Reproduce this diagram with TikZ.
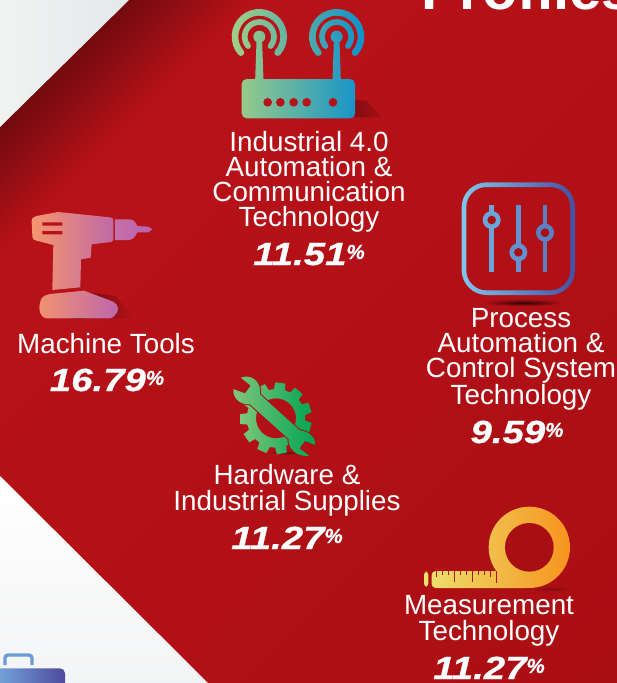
\documentclass[tikz,border=0pt]{standalone}
\usepackage{fontspec}
\setmainfont{Liberation Sans}
\newfontfamily\numfont[FakeBold=0.6]{Liberation Sans Bold Italic}
\usetikzlibrary{calc}
\newcommand{\hexc}[2]{\definecolor{#1}{HTML}{#2}}
\hexc{rA}{730A0E}\hexc{rB}{B81219}\hexc{rC}{A90E13}
\hexc{paleA}{F1F2F2}\hexc{paleB}{E5E7E9}\hexc{paleC}{FFFFFF}\hexc{paleD}{F3F4F5}
\hexc{caseH}{6C9BD6}\hexc{caseA}{76A9DC}\hexc{caseB}{4D4A9F}
\hexc{routA}{A5D083}\hexc{routB}{0B8FCE}
\hexc{drillA}{F6966C}\hexc{drillB}{BC66AC}\hexc{drillC}{C56FA8}\hexc{drillD}{B863AE}
\hexc{slideA}{80C6EB}\hexc{slideB}{4450A3}\hexc{slideC}{6BA6DB}\hexc{slideD}{5A80C4}
\hexc{gearA}{80C57E}\hexc{gearB}{00A551}
\hexc{tapeA}{ECE26F}\hexc{tapeB}{F7931E}
\tikzset{
  lbl/.style={text=white,anchor=base,align=center,inner sep=0pt,font=\fontsize{27.8}{25.1}\selectfont},
  num/.style={text=white,anchor=base,inner sep=0pt},
}
\newcommand{\pct}[1]{\scalebox{1.2}[1]{\fontsize{32}{32}\numfont #1}\raisebox{6pt}{\fontsize{20.5}{20.5}\numfont\%}}
\def\band#1#2#3#4#5#6{(#1,#2) ++(#5:#3+#4) arc[start angle=#5,end angle=#6,radius=#3+#4] arc[start angle=#6,end angle=#6+180,radius=#4] arc[start angle=#6,end angle=#5,radius=#3-#4] arc[start angle=#5+180,end angle=#5+360,radius=#4] -- cycle}
\def\antenna#1{\band{#1}{110}{73}{10}{139}{401} \band{#1}{110}{44}{8.5}{140}{400} (#1+18,110) arc[start angle=0,end angle=360,radius=18] (#1+8,110) -- (#1+12.5,240) -- (#1-12.5,240) -- (#1-8,110) -- cycle}
\def\wrenchpath{(92,38) .. controls (125,25) and (155,50) .. (150,88) -- (268,195) .. controls (300,200) and (318,220) .. (316,240) -- (285,228) -- (268,250) -- (298,272) .. controls (262,278) and (232,250) .. (236,222) -- (120,118) .. controls (90,120) and (68,100) .. (70,72) -- (105,85) -- (122,62) -- cycle}
\begin{document}
\begin{tikzpicture}[x=1pt,y=1pt,yscale=-1]
\useasboundingbox (0,0) rectangle (617,683);
\begin{scope}
\clip (0,0) rectangle (617,683);
% red ground
\fill[rA] (0,0) rectangle (617,683);
\foreach \t in {0,...,40}{
  \pgfmathsetmacro\s{128+\t*3.2}
  \pgfmathsetmacro\p{\t*2.5}
  \fill[rB!\p!rA] (\s,0) -- (1500,0) -- (1500,1500) -- (0,1500) -- (0,\s) -- cycle;
}
\foreach \t in {1,...,24}{
  \pgfmathsetmacro\s{256+\t*42}
  \pgfmathsetmacro\p{100-\t*4.1}
  \fill[rB!\p!rC] (\s,0) -- (1500,0) -- (1500,1500) -- (0,1500) -- (0,\s) -- cycle;
}
% pale corners
\shade[left color=paleA,right color=paleB] (0,0) -- (129,0) -- (0,127) -- cycle;
\shade[top color=paleC,bottom color=paleD] (0,476) -- (209,684) -- (0,684) -- cycle;
% briefcase
\draw[color=caseH,line width=3.3pt,rounded corners=3pt] (5,665) -- (5,655) -- (32,655) -- (32,665);
\shade[left color=caseA,right color=caseB,rounded corners=5pt] (-6,668.3) -- (65,668.3) -- (65,695) -- (-6,695) -- cycle;
% title
\node[text=white,anchor=base west,inner sep=0pt,font=\fontsize{58}{58}\selectfont\bfseries] (title) at (421,9) {Profiles};
\end{scope}
% router
\begin{scope}[shift={(200,0)},scale=0.33333]
\shade[left color=rB!72!black,right color=rC] (465,300) -- (500,302) -- (545,352) -- (465,352) -- cycle;
\shade[left color=routA,right color=routB]
  \antenna{178} \antenna{410}
  {[rounded corners=5pt] (465,237) -- (465,355) -- (125,355) -- (125,237) -- cycle};
\foreach \x in {203,241,281,320,399}{\fill[rB] (\x,307) circle (13);}
\end{scope}
% drill
\begin{scope}[shift={(0,190)},scale=0.33333]
\shade[left color=rB!62!black,right color=rB!98!black] (270,308) -- (345,318) -- (405,386) -- (250,386) -- cycle;
\fill[rB!60!black] (210,384) rectangle (255,388);
\shade[left color=drillA,right color=drillB]
  (110,78) -- (175,66) -- (330,82) .. controls (338,84) .. (340,92) -- (340,150) .. controls (338,155) .. (333,156) -- (275,163) -- (272,203) -- (243,208) -- (241,292) -- (157,300) -- (160,165) -- (110,152) .. controls (98,148) .. (97,135) -- (95,95) .. controls (96,84) .. (110,78) -- cycle
  (150,312) -- (252,302) -- (340,335) .. controls (358,345) and (358,365) .. (345,375) .. controls (340,382) .. (330,385) -- (140,385) .. controls (118,383) and (112,350) .. (125,325) .. controls (130,318) .. (150,312) -- cycle;
\shade[left color=drillC,right color=drillD]
  (345,88) -- (388,88) .. controls (402,90) .. (412,108) -- (445,110) -- (457,118) -- (445,127) -- (412,127) .. controls (402,145) .. (388,150) -- (345,150) -- cycle;
\fill[rB] (127,97) rectangle (187,107) (127,123) rectangle (187,133);
\end{scope}
% sliders
\begin{scope}[shift={(440,170)},scale=0.33333]
\shade[inner color=black!75!rB,outer color=rC] (250,398) ellipse (115 and 10);
\shade[left color=slideA,right color=slideB,even odd rule]
  {[rounded corners=25pt] (65,37) rectangle (405,375)}
  {[rounded corners=20pt] (79,51) rectangle (391,361)};
\fill[slideC] (148,105) rectangle (162,307);
\fill[slideC!50!slideD] (228,105) rectangle (242,307);
\fill[slideD] (308,105) rectangle (322,307);
\fill[slideC] (155,150) circle (27);
\fill[slideC!50!slideD] (235,247) circle (27);
\fill[slideD] (315,188) circle (27);
\fill[rC] (155,150) circle (13) (235,247) circle (13) (315,188) circle (13);
\end{scope}
% gear and wrench
\begin{scope}[shift={(210,365)},scale=0.33333]
\shade[inner color=black!50!rB,outer color=rC] (225,263) ellipse (45 and 6);
\begin{scope}[shift={(198,160)}]
\shade[left color=gearA,right color=gearB,even odd rule]
  (-94:88) \foreach \i [evaluate=\i as \a using -83+\i*32.727] in {0,...,10}{
    -- (\a-11:88) -- (\a-8:108) -- (\a+8:108) -- (\a+11:88)
  } -- cycle
  (60,0) arc[start angle=0,end angle=360,radius=60];
\end{scope}
\draw[rC,line width=2pt] \wrenchpath;
\shade[left color=gearA,right color=gearB] \wrenchpath;
\end{scope}
% tape
\begin{scope}[shift={(410,495)},scale=0.33333]
\shade[inner color=rB!70!black,outer color=rC] (425,282) ellipse (60 and 7);
\shade[left color=tapeA,right color=tapeB]
  (480,157) arc[start angle=0,end angle=360,radius=122]
  {[rounded corners=4pt] (358,279) -- (65,279) -- (65,228) -- (358,228) -- cycle}
  {[rounded corners=3pt] (42,275) -- (55,275) -- (55,230) -- (42,230) -- cycle};
\fill[rC] (358,157) circle (73);
\foreach \x/\l in {78/245,96/240,114/240,132/262,150/240,168/240,186/262,204/240,222/240,240/245,258/265}{
  \fill[rB] (\x-1.5,228) rectangle (\x+1.5,\l);
}
\end{scope}
% labels
\node[lbl] (a) at (309,226.5) {Industrial 4.0\\Automation \&\\Communication\\Technology};
\node[num] (an) at (309,265) {\pct{11.51}};
\node[lbl] (b) at (106,353) {Machine Tools};
\node[num] (bn) at (107,391) {\pct{16.79}};
\node[lbl] (c) at (521,404.5) {Process\\Automation \&\\Control System\\Technology};
\node[num] (cn) at (517,443) {\pct{9.59}};
\node[lbl] (d) at (287,510) {Hardware \&\\Industrial Supplies};
\node[num] (dn) at (287,549) {\pct{11.27}};
\node[lbl] (e) at (489,640) {Measurement\\Technology};
\node[num] (en) at (489,679) {\pct{11.27}};
\end{tikzpicture}
\end{document}
